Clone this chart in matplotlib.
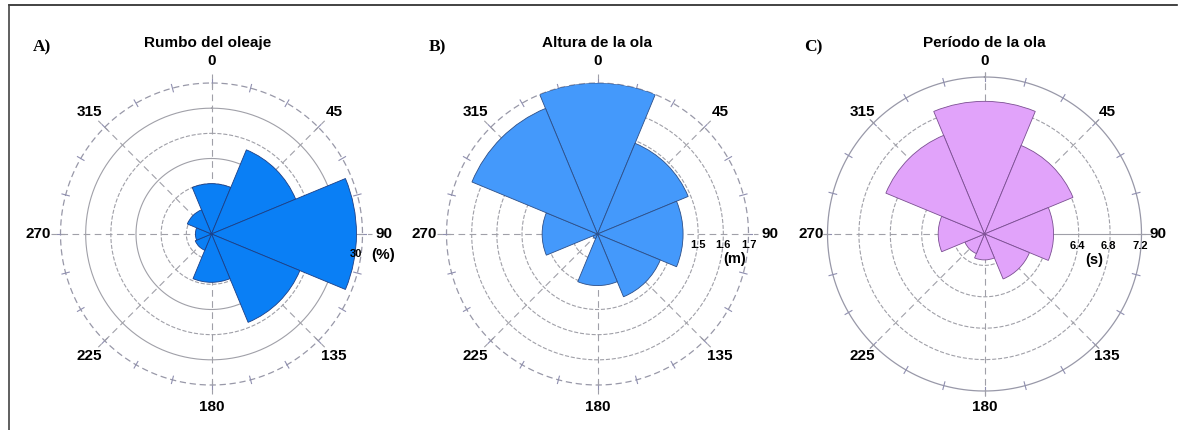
import numpy as np
import matplotlib
matplotlib.use('Agg')
from matplotlib import pyplot as plt

# sector directions (deg, clockwise from north)
directions = [0, 45, 90, 135, 180, 225, 270, 315]
dir_labels = ['0', '45', '90', '135', '180', '225', '270', '315']

# A) wave direction frequency (%)
rumbo = [10.0, 18.1, 28.8, 19.0, 9.6, 3.5, 3.2, 5.2]
# B) wave height (m)
altura = [1.70, 1.49, 1.44, 1.37, 1.305, 1.12, 1.32, 1.64]
# C) wave period (s)
periodo = [6.89, 6.42, 6.08, 5.82, 5.53, 5.47, 5.79, 6.56]

titles = ['Rumbo del oleaje', 'Altura de la ola', 'Período de la ola']
letters = ['A)', 'B)', 'C)']

plt.rcParams['font.family'] = ['Liberation Sans', 'DejaVu Sans']

fig = plt.figure(figsize=(11.78, 4.30), dpi=100)

W, H = 1178.0, 430.0


def make_ax(cx, cy, r):
    ax = fig.add_axes([(cx - r) / W, (H - cy - r) / H, 2 * r / W, 2 * r / H],
                      projection='polar')
    ax.set_theta_zero_location('N')
    ax.set_theta_direction(-1)
    ax.grid(False)
    ax.spines['polar'].set_visible(False)
    ax.set_xticks([])
    ax.set_yticks([])
    ax.patch.set_alpha(0)
    return ax


def draw_grid(ax, rings, styles, rmin, rmax, rpx, outer_solid=False,
              east_solid=False):
    th = np.linspace(0, 2 * np.pi, 400)
    for rr, st in zip(rings, styles):
        ax.plot(th, np.full_like(th, rr), color='#a0a0a8', lw=0.8,
                ls=st, zorder=1)
    # outer ring
    ax.plot(th, np.full_like(th, rmax), color='#9898a8', lw=0.9,
            ls='-' if outer_solid else (0, (5, 3)), zorder=1, clip_on=False)
    span = rmax - rmin
    for d in range(0, 360, 15):
        t = np.deg2rad(d)
        ax.plot([t, t], [rmax - 0.025 * span, rmax + 0.025 * span],
                color='#8f8fb0', lw=0.8, zorder=1, clip_on=False)
    for d in range(0, 360, 45):
        t = np.deg2rad(d)
        ls = '-' if (east_solid and d == 90) else (0, (6, 4))
        ax.plot([t, t], [rmin, rmax + 0.06 * span], color='#a0a0a8',
                lw=0.8, ls=ls, zorder=1, clip_on=False)
    ax.set_ylim(rmin, rmax)
    # direction labels sit at a fixed pixel distance from the centre
    rlab = rmin + span * 173.0 / rpx
    for d, lb in zip(directions, dir_labels):
        ax.text(np.deg2rad(d), rlab, lb, ha='center', va='center',
                fontsize=11, fontweight='bold', clip_on=False)


def draw_bars(ax, vals, rmin, color, edge):
    theta = np.deg2rad(directions)
    heights = np.array(vals) - rmin
    ax.bar(theta, heights, width=np.deg2rad(45), bottom=rmin, color=color,
           edgecolor=edge, linewidth=0.6, zorder=3)


# A
axA = make_ax(211.5, 234, 151)
draw_grid(axA, [5, 10, 15, 20, 25], ['--', '--', '-', '--', '-'], 0, 30, 151)
draw_bars(axA, rumbo, 0, '#0a7ff5', '#1b3f86')
axA.text(np.deg2rad(98), 29, '30', fontsize=8, fontweight='bold',
         ha='center', va='center', zorder=5, clip_on=False)
axA.text(np.deg2rad(97), 34.3, '(%)', fontsize=11, fontweight='bold',
         ha='center', va='center', zorder=5, clip_on=False)

# B
axB = make_ax(597.5, 234, 151)
draw_grid(axB, [1.2, 1.3, 1.4, 1.5, 1.6], ['--'] * 5, 1.1, 1.7, 151)
draw_bars(axB, altura, 1.1, '#4499fb', '#2d4f88')
for v in [1.5, 1.6, 1.7]:
    axB.annotate(f'{v:.1f}', xy=(np.pi / 2, v), xytext=(0, -8),
                 textcoords='offset points', ha='center', va='center',
                 fontsize=8, fontweight='bold', zorder=5, annotation_clip=False)
axB.annotate('(m)', xy=(np.pi / 2, 1.645), xytext=(0, -18),
             textcoords='offset points', ha='center', va='center',
             fontsize=10.5, fontweight='bold', annotation_clip=False)

# C
axC = make_ax(984.5, 234, 157)
draw_grid(axC, [5.6, 6.0, 6.4, 6.8], ['--'] * 4, 5.2, 7.2, 157,
          outer_solid=True, east_solid=True)
draw_bars(axC, periodo, 5.2, '#e1a3fa', '#7b4f92')
for v in [6.4, 6.8, 7.2]:
    axC.annotate(f'{v:.1f}', xy=(np.pi / 2, v), xytext=(-1, -9),
                 textcoords='offset points', ha='center', va='center',
                 fontsize=8, fontweight='bold', zorder=5, annotation_clip=False)
axC.annotate('(s)', xy=(np.pi / 2, 6.6), xytext=(0, -19),
             textcoords='offset points', ha='center', va='center',
             fontsize=10.5, fontweight='bold', annotation_clip=False)

# titles and panel letters
for x, t in zip([208, 597, 984], titles):
    fig.text(x / W, 1 - 43 / H, t, ha='center', va='center', fontsize=11,
             fontweight='bold')
for x, lb in zip([42, 437, 813], letters):
    fig.text(x / W, 1 - 47 / H, lb, ha='center', va='center', fontsize=12.5,
             fontweight='bold', family='Liberation Serif')

# frame lines (top and left)
fig.add_artist(plt.Line2D([9 / W, 1177 / W], [1 - 5 / H, 1 - 5 / H],
                          color='#222222', lw=1.2))
fig.add_artist(plt.Line2D([9 / W, 9 / W], [0, 1 - 5 / H],
                          color='#444444', lw=1.2))

fig.savefig('out.png', dpi=100)
